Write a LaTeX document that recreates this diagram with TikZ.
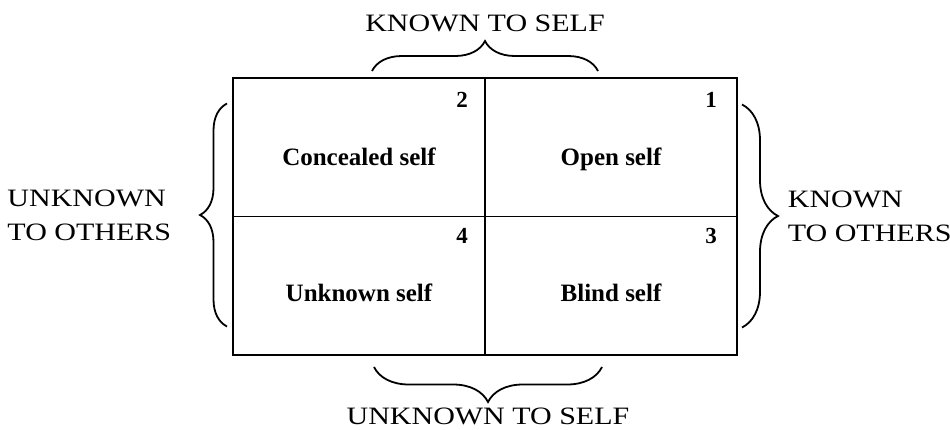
\documentclass[tikz,border=0pt]{standalone}
\usepackage{fontspec}
\setmainfont{Liberation Serif}
\newfontfamily\widefont[FakeStretch=1.2]{Liberation Serif}
\usetikzlibrary{decorations.pathreplacing, positioning}

\begin{document}
\begin{tikzpicture}[
    x=1pt, y=1pt,
    cell/.style={rectangle, draw, line width=1.8pt, outer sep=0pt, inner sep=0pt, minimum width=252pt, minimum height=138.5pt},
    quad/.style={font=\fontsize{25}{28}\selectfont\bfseries, inner sep=0pt, anchor=base},
    num/.style={font=\fontsize{23}{24}\selectfont\bfseries, inner sep=0pt, anchor=north east},
    axis/.style={font=\widefont\fontsize{25}{34}\selectfont, inner sep=0pt, align=left},
    curly/.style={decorate, decoration={brace, amplitude=#1}, line width=1.8pt}
]
\useasboundingbox (0,0) rectangle (950,-429);

% --- the four panes ---
\node[cell] (concealed) at (359,-147.25) {};
\node[cell, right=0pt of concealed] (open)    {};
\node[cell, below=0pt of concealed] (unknown) {};
\node[cell, right=0pt of unknown]   (blind)   {};

\node[quad] (concealed-txt) at ([yshift=-18pt]concealed.center) {Concealed self};
\node[quad] (open-txt)      at ([yshift=-18pt]open.center)      {Open self};
\node[quad] (unknown-txt)   at ([yshift=-16pt]unknown.center)   {Unknown self};
\node[quad] (blind-txt)     at ([yshift=-16pt]blind.center)     {Blind self};

% --- pane numbers ---
\node[num] (n2) at ([xshift=-17pt, yshift=-14pt]concealed.north east) {2};
\node[num] (n1) at ([xshift=-20pt, yshift=-14pt]open.north east)      {1};
\node[num] (n4) at ([xshift=-17pt, yshift=-12pt]unknown.north east)   {4};
\node[num] (n3) at ([xshift=-20pt, yshift=-12pt]blind.north east)     {3};

% --- brace end points ---
\coordinate (top-a) at ([xshift=-113pt, yshift=7pt]concealed.north east);
\coordinate (top-b) at ([xshift=113pt, yshift=7pt]concealed.north east);
\coordinate (bot-a) at ([xshift=117pt, yshift=-12pt]unknown.south east);
\coordinate (bot-b) at ([xshift=-111pt, yshift=-12pt]unknown.south east);
\coordinate (lft-a) at ([xshift=-6pt, yshift=-110pt]concealed.south west);
\coordinate (lft-b) at ([xshift=-6pt, yshift=113pt]concealed.south west);
\coordinate (rgt-a) at ([xshift=5pt, yshift=112pt]open.south east);
\coordinate (rgt-b) at ([xshift=5pt, yshift=-111pt]open.south east);

% --- braces with their captions ---
\draw[curly=30] (top-a) -- node[axis, anchor=base, yshift=40pt] (known-self) {KNOWN TO SELF} (top-b);
\draw[curly=35] (bot-a) -- node[axis, anchor=base, yshift=-57pt] (unknown-self) {UNKNOWN TO SELF} (bot-b);
\draw[curly=27] (lft-a) -- node[axis, anchor=east, xshift=-55pt] (unknown-others) {UNKNOWN\\TO OTHERS} (lft-b);
\draw[curly=36] (rgt-a) -- node[axis, anchor=west, xshift=45pt] (known-others) {KNOWN\\TO OTHERS} (rgt-b);
\end{tikzpicture}
\end{document}
